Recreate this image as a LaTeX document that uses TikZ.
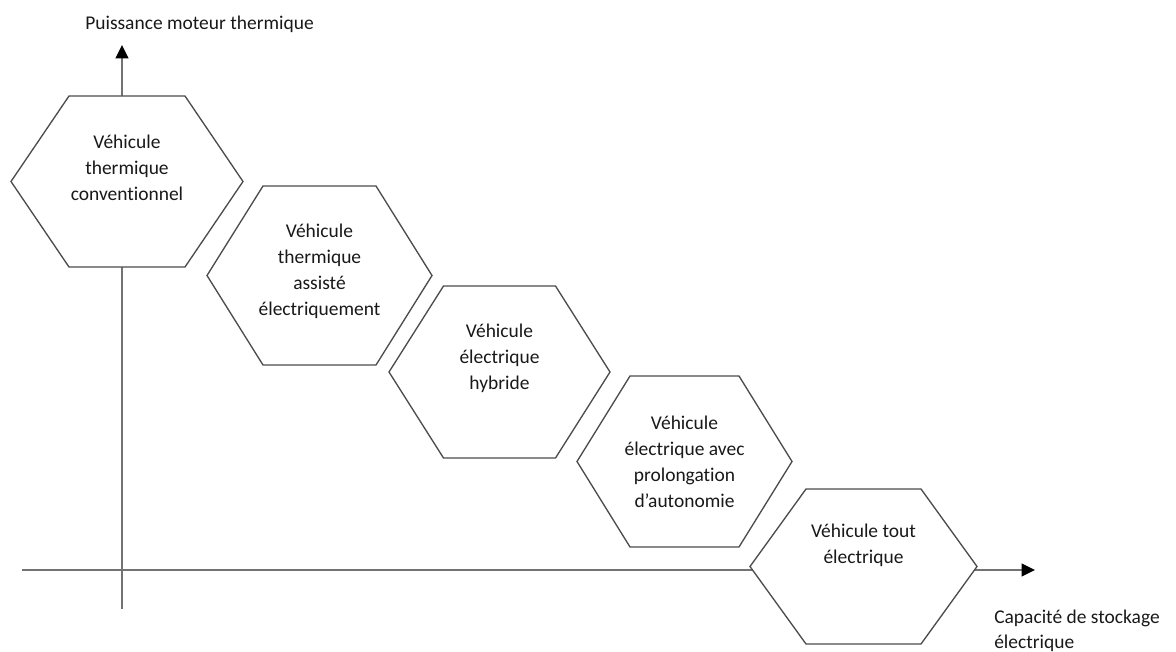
\documentclass[tikz,border=0pt]{standalone}
\usepackage{fontspec}
\setmainfont{Carlito}[Ligatures=NoCommon]
\usetikzlibrary{arrows.meta}

% Flat-topped hexagon: centre (#1,#2), half width #3, half height #4,
% horizontal inset of the top and bottom edges #5
\newcommand\hexcell[5]{%
  \draw[hexline] ({#1-#3},{#2}) -- ({#1-#3+#5},{#2-#4}) -- ({#1+#3-#5},{#2-#4})
    -- ({#1+#3},{#2}) -- ({#1+#3-#5},{#2+#4}) -- ({#1-#3+#5},{#2+#4}) -- cycle;}

\begin{document}
\begin{tikzpicture}[x=0.75pt,y=-0.75pt,
  hexline/.style={draw=black!70,line width=1pt,fill=white,line join=miter},
  axis/.style={draw=black!55,line width=1.2pt,
    -{Triangle[length=10pt,width=9.5pt,color=black]}},
  celltext/.style={align=center,inner sep=0pt,text=black!90,
    font=\fontsize{14.6pt}{19.5pt}\selectfont},
  axislabel/.style={anchor=base west,inner sep=0pt,text=black!90,
    font=\fontsize{14.6pt}{19.5pt}\selectfont}]
\useasboundingbox (0,0) rectangle (1176,652);

% axes
\coordinate (xstart) at (22,570);
\coordinate (xend) at (1035,570);
\coordinate (ystart) at (122,609);
\coordinate (yend) at (122,45);
\draw[axis] (xstart) -- (xend);
\draw[axis] (ystart) -- (yend);

\node[axislabel] (ylab) at (85,30) {Puissance moteur thermique};
\node[axislabel] (xlabA) at (994,623) {Capacité de stockage};
\node[axislabel] (xlabB) at (994,648) {électrique};

% vehicle categories
\hexcell{127}{181.5}{116}{85.5}{58}
\hexcell{319.5}{275.5}{112.5}{89.5}{56}
\hexcell{499.5}{372}{110.5}{86}{54.5}
\hexcell{684.5}{461.5}{107.5}{85.5}{53}
\hexcell{863.5}{566.5}{113.5}{77.5}{56}

\node[celltext] (conv) at (127,168) {Véhicule\\thermique\\conventionnel};
\node[celltext] (assist) at (319.5,271) {Véhicule\\thermique\\assisté\\électriquement};
\node[celltext] (hybrid) at (499.5,358) {Véhicule\\électrique\\hybride};
\node[celltext] (range) at (684.5,462) {Véhicule\\électrique avec\\prolongation\\d’autonomie};
\node[celltext] (full) at (863.5,545) {Véhicule tout\\électrique};
\end{tikzpicture}
\end{document}
